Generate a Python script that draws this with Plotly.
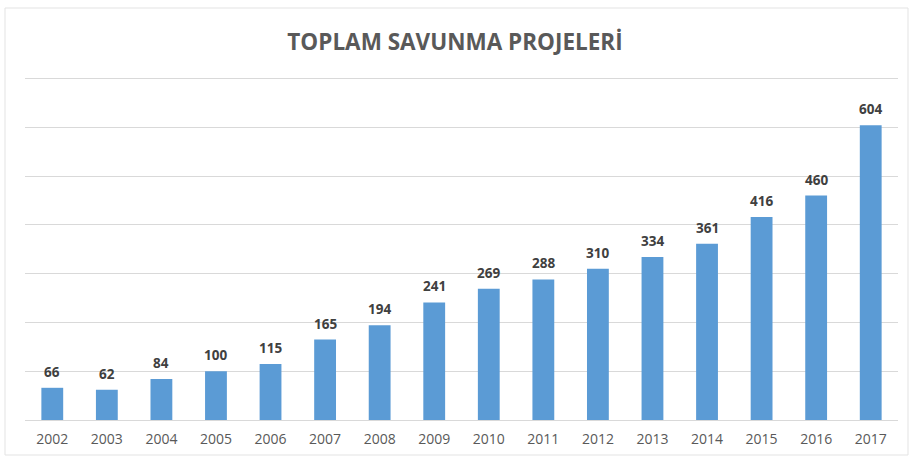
import plotly.graph_objects as go

years = [str(y) for y in range(2002, 2018)]
values = [66, 62, 84, 100, 115, 165, 194, 241, 269, 288, 310, 334, 361, 416, 460, 604]
title_text = "TOPLAM SAVUNMA PROJELERİ"

W, H = 910, 459
L, R, T, B = 25, 898, 77, 420

fig = go.Figure(go.Bar(
    x=years, y=values,
    marker=dict(color="#5B9BD5", line=dict(width=0)),
    hoverinfo="x+y",
))

annotations = [dict(x=i, y=v, text="<b>" + str(v) + "</b>", showarrow=False,
                    xref="x", yref="y", yanchor="bottom", yshift=5,
                    font=dict(family="Open Sans", size=13.5, color="#404040"))
               for i, v in enumerate(values)]

fig.update_layout(
    width=W, height=H,
    margin=dict(l=L, r=W - R, t=T, b=H - B),
    paper_bgcolor="white", plot_bgcolor="white",
    bargap=0.6,
    showlegend=False,
    annotations=annotations,
    title=dict(text="<b>" + title_text + "</b>", x=0.5, xanchor="center",
               y=1 - 42 / H, yanchor="middle",
               font=dict(family="Open Sans", size=22.5, color="#595959")),
    xaxis=dict(type="category", range=[-0.5, len(years) - 0.5], showgrid=False,
               showline=False, ticks="", ticklabelstandoff=9,
               tickfont=dict(family="Open Sans", size=14, color="#595959")),
    yaxis=dict(range=[0, 703], tick0=0, dtick=100, showticklabels=False, showgrid=True,
               gridcolor="#D9D9D9", gridwidth=1, zeroline=True,
               zerolinecolor="#D9D9D9", zerolinewidth=1, ticks=""),
    shapes=[dict(type="rect", xref="paper", yref="paper",
                 x0=(5 - L) / (R - L), x1=(908 - L) / (R - L),
                 y0=(B - 455) / (B - T), y1=(B - 8) / (B - T),
                 line=dict(color="#E3E3E3", width=1), layer="below")],
)

fig.write_html("out.html", config={"displayModeBar": False},
               post_script="document.body.style.margin='0';document.body.style.padding='0';")
